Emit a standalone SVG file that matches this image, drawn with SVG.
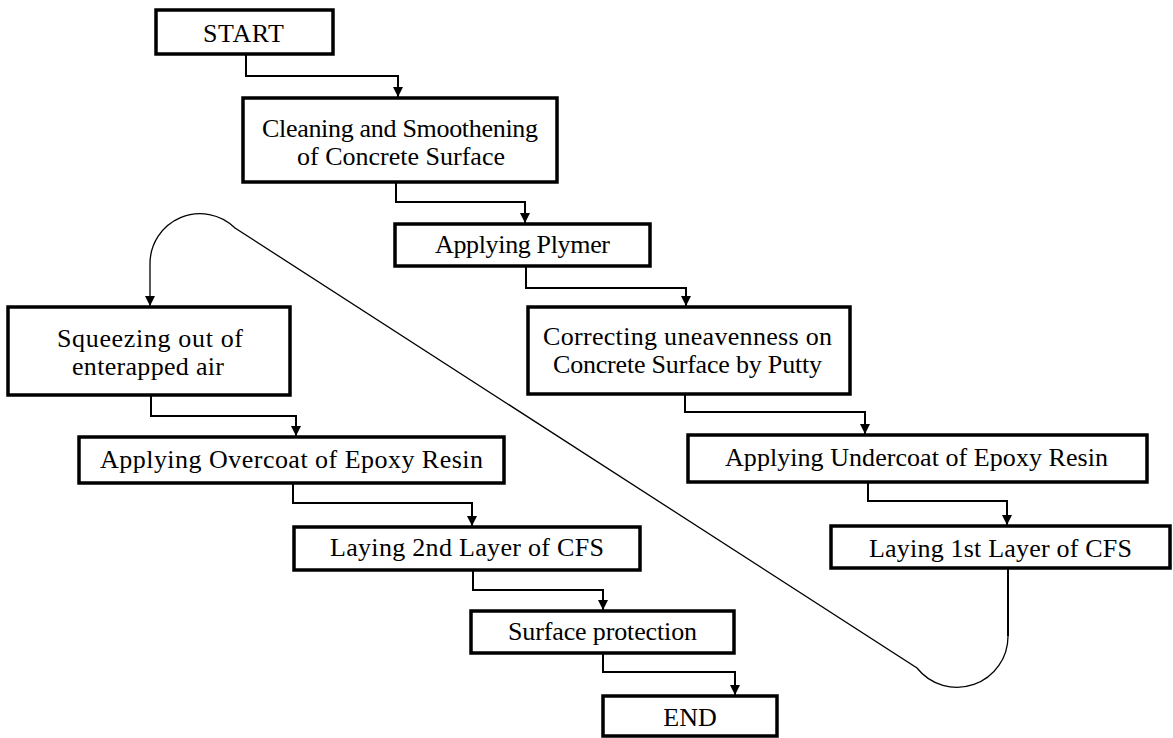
<svg xmlns="http://www.w3.org/2000/svg" width="1173" height="738" viewBox="0 0 1173 738">
<style>
.box{fill:#fff;stroke:#000;stroke-width:3.5}
.t{font-family:"Liberation Serif","Times New Roman",serif;font-size:26px;fill:#000;text-anchor:middle}
.c{fill:none;stroke:#000;stroke-width:2}
.thin{fill:none;stroke:#000;stroke-width:1.3}
</style>
<defs>
<marker id="ah" markerUnits="userSpaceOnUse" markerWidth="10" markerHeight="11" refX="10" refY="5" orient="auto">
<path d="M0,0 L10,5 L0,10 z" fill="#000"/>
</marker>
</defs>
<rect width="1173" height="738" fill="#fff"/>
<g id="connectors">
<path class="c" d="M246,54 V76 H398 V97" marker-end="url(#ah)"/>
<path class="c" d="M396,182 V202 H525 V223" marker-end="url(#ah)"/>
<path class="c" d="M526,266 V288 H686 V306" marker-end="url(#ah)"/>
<path class="c" d="M685,394 V412 H865 V434" marker-end="url(#ah)"/>
<path class="c" d="M868,482 V501 H1007 V525" marker-end="url(#ah)"/>
<path class="c" d="M1008,568 V636"/>
<path class="thin" d="M1008,636 A51,51 0 0 1 917,668 L235,228 A50,50 0 0 0 150,264 V306" marker-end="url(#ah)"/>
<path class="c" d="M151,395 V416 H296 V436" marker-end="url(#ah)"/>
<path class="c" d="M293,483 V503 H472 V526" marker-end="url(#ah)"/>
<path class="c" d="M473,570 V590 H603 V610" marker-end="url(#ah)"/>
<path class="c" d="M603,653 V672 H735 V695" marker-end="url(#ah)"/>
</g>
<g id="start"><rect class="box" x="156" y="10" width="177" height="44"/><text class="t" x="243.5" y="42" textLength="81">START</text></g>
<g id="cleaning"><rect class="box" x="243" y="98" width="314" height="84"/><text class="t" x="400" y="137" textLength="276">Cleaning and Smoothening</text><text class="t" x="401" y="165" textLength="208">of Concrete Surface</text></g>
<g id="plymer"><rect class="box" x="395" y="224" width="255" height="42"/><text class="t" x="522.5" y="253" textLength="175">Applying Plymer</text></g>
<g id="correcting"><rect class="box" x="528" y="307" width="322" height="87"/><text class="t" x="687.5" y="345" textLength="289">Correcting uneavenness on</text><text class="t" x="687.5" y="373" textLength="269">Concrete Surface by Putty</text></g>
<g id="undercoat"><rect class="box" x="688" y="435" width="459" height="47"/><text class="t" x="916.5" y="466" textLength="383">Applying Undercoat of Epoxy Resin</text></g>
<g id="layer1"><rect class="box" x="831" y="526" width="339" height="42"/><text class="t" x="1000.5" y="557" textLength="263">Laying 1st Layer of CFS</text></g>
<g id="squeezing"><rect class="box" x="8" y="307" width="282" height="88"/><text class="t" x="150" y="347" textLength="186">Squeezing out of</text><text class="t" x="148" y="375" textLength="152">enterapped air</text></g>
<g id="overcoat"><rect class="box" x="79" y="437" width="425" height="46"/><text class="t" x="291.5" y="468" textLength="383">Applying Overcoat of Epoxy Resin</text></g>
<g id="layer2"><rect class="box" x="294" y="527" width="346" height="43"/><text class="t" x="467" y="556" textLength="274">Laying 2nd Layer of CFS</text></g>
<g id="surface"><rect class="box" x="471" y="611" width="263" height="42"/><text class="t" x="602.5" y="640" textLength="189">Surface protection</text></g>
<g id="end"><rect class="box" x="603" y="696" width="174" height="40"/><text class="t" x="690" y="726">END</text></g>
</svg>
